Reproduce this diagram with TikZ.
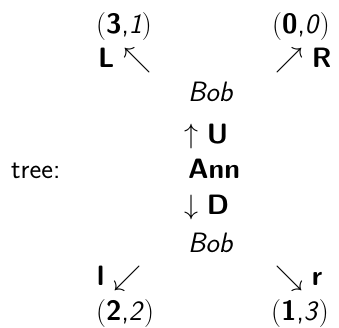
\RequirePackage{fix-cm}
\documentclass[tikz,border=0pt]{standalone}
\usepackage{fontspec}
\begin{document}
\begin{tikzpicture}[x=1pt,y=-1pt,
  lbl/.style={anchor=base west, inner sep=0pt, font=\fontsize{28}{32}\selectfont\sffamily}]
\useasboundingbox (0,0) rectangle (339,327);
\node[lbl] (p1) at (96,33.5) {$($\textbf{3},\textit{1}$)$};
\node[lbl] (p2) at (272,33.5) {$($\textbf{0},\textit{0}$)$};
\node[lbl] (L) at (98,67) {\textbf{L} $\nwarrow$};
\node[lbl] (R) at (275,67) {$\nearrow$ \textbf{R}};
\node[lbl] (bob1) at (188,101) {\textit{Bob}};
\node[lbl] (U) at (184,143) {$\uparrow$ \textbf{U}};
\node[lbl] (tree) at (11,178) {tree:};
\node[lbl] (ann) at (188,178) {\textbf{Ann}};
\node[lbl] (D) at (184,214) {$\downarrow$ \textbf{D}};
\node[lbl] (bob2) at (188,252) {\textit{Bob}};
\node[lbl] (l) at (97,285) {\textbf{l} $\swarrow$};
\node[lbl] (r) at (275,285) {$\searrow$ \textbf{r}};
\node[lbl] (p3) at (96,320) {$($\textbf{2},\textit{2}$)$};
\node[lbl] (p4) at (271,320) {$($\textbf{1},\textit{3}$)$};
\end{tikzpicture}
\end{document}
